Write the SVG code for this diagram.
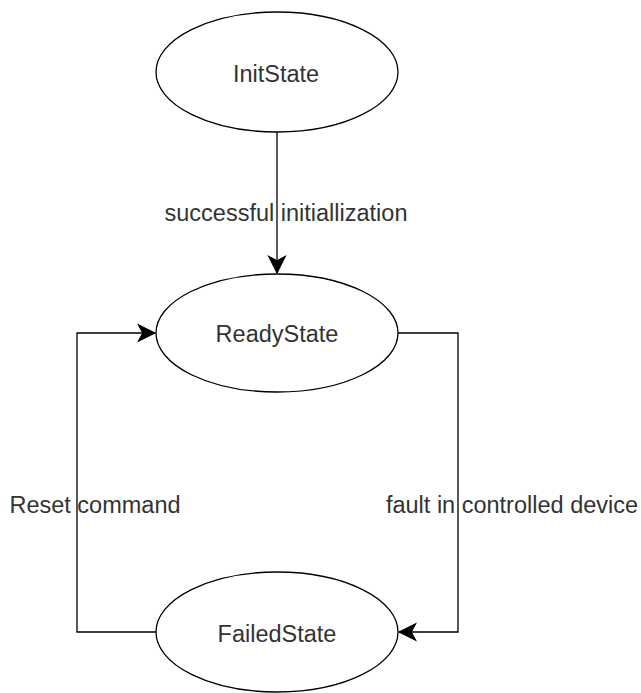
<svg xmlns="http://www.w3.org/2000/svg" width="641" height="693" viewBox="0 0 641 693">
<style>
.node { fill: #ffffff; stroke: #000000; stroke-width: 1.3; }
.edge { fill: none; stroke: #000000; stroke-width: 1.3; }
text { font-family: "Liberation Sans", Arial, sans-serif; font-size: 23.5px; fill: #333333; }
.c { text-anchor: middle; }
</style>
<defs>
<marker id="arrow" markerUnits="userSpaceOnUse" markerWidth="20" markerHeight="20" viewBox="-16 -9 18 18" refX="0" refY="0" orient="auto">
<path d="M0,0 L-15,-7.5 L-11,0 L-15,7.5 Z" fill="#000000" stroke="#000000" stroke-width="1"/>
</marker>
</defs>
<rect width="641" height="693" fill="#ffffff"/>
<g id="connectors">
<path class="edge" d="M277,132 L277,273" marker-end="url(#arrow)"/>
<path class="edge" d="M156,632 L77,632 L77,333 L155,333" marker-end="url(#arrow)"/>
<path class="edge" d="M398,333 L458,333 L458,632 L399,632" marker-end="url(#arrow)"/>
<text x="286" y="221" class="c">successful initiallization</text>
<text x="95" y="513" class="c">Reset command</text>
<text x="512" y="513" class="c">fault in controlled device</text>
</g>
<g id="InitState">
<ellipse class="node" cx="277" cy="72" rx="121" ry="60"/>
<text x="276" y="82" class="c">InitState</text>
</g>
<g id="ReadyState">
<ellipse class="node" cx="277" cy="333" rx="121" ry="59"/>
<text x="277" y="342" class="c">ReadyState</text>
</g>
<g id="FailedState">
<ellipse class="node" cx="277" cy="632" rx="121" ry="60"/>
<text x="277" y="642" class="c">FailedState</text>
</g>
</svg>
